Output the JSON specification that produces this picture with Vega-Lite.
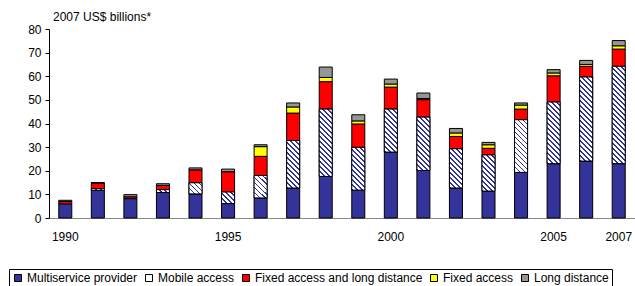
{
  "$schema": "https://vega.github.io/schema/vega-lite/v6.json",
  "width": 586,
  "height": 189,
  "autosize": "none",
  "padding": {"left": 49, "top": 29, "right": 0, "bottom": 68},
  "background": "white",
  "config": {
    "font": "Liberation Sans",
    "view": {"stroke": null},
    "axis": {"labelFont": "Liberation Sans", "labelColor": "#000", "grid": false},
    "legend": {"labelFont": "Liberation Sans"}
  },
  "title": {
    "text": "2007 US$ billions*",
    "anchor": "start",
    "frame": "group",
    "fontSize": 12,
    "fontWeight": "normal",
    "font": "Liberation Sans",
    "color": "#000",
    "dx": 4,
    "offset": -1
  },
  "params": [
    {
      "name": "hatchStops",
      "value": [
        {"offset": 0, "color": "#333399"}, {"offset": 0.012, "color": "#333399"}, {"offset": 0.012, "color": "#fff"}, {"offset": 0.0333, "color": "#fff"},
        {"offset": 0.0333, "color": "#333399"}, {"offset": 0.0453, "color": "#333399"}, {"offset": 0.0453, "color": "#fff"}, {"offset": 0.0667, "color": "#fff"},
        {"offset": 0.0667, "color": "#333399"}, {"offset": 0.0787, "color": "#333399"}, {"offset": 0.0787, "color": "#fff"}, {"offset": 0.1, "color": "#fff"},
        {"offset": 0.1, "color": "#333399"}, {"offset": 0.112, "color": "#333399"}, {"offset": 0.112, "color": "#fff"}, {"offset": 0.1333, "color": "#fff"},
        {"offset": 0.1333, "color": "#333399"}, {"offset": 0.1453, "color": "#333399"}, {"offset": 0.1453, "color": "#fff"}, {"offset": 0.1667, "color": "#fff"},
        {"offset": 0.1667, "color": "#333399"}, {"offset": 0.1787, "color": "#333399"}, {"offset": 0.1787, "color": "#fff"}, {"offset": 0.2, "color": "#fff"},
        {"offset": 0.2, "color": "#333399"}, {"offset": 0.212, "color": "#333399"}, {"offset": 0.212, "color": "#fff"}, {"offset": 0.2333, "color": "#fff"},
        {"offset": 0.2333, "color": "#333399"}, {"offset": 0.2453, "color": "#333399"}, {"offset": 0.2453, "color": "#fff"}, {"offset": 0.2667, "color": "#fff"},
        {"offset": 0.2667, "color": "#333399"}, {"offset": 0.2787, "color": "#333399"}, {"offset": 0.2787, "color": "#fff"}, {"offset": 0.3, "color": "#fff"},
        {"offset": 0.3, "color": "#333399"}, {"offset": 0.312, "color": "#333399"}, {"offset": 0.312, "color": "#fff"}, {"offset": 0.3333, "color": "#fff"},
        {"offset": 0.3333, "color": "#333399"}, {"offset": 0.3453, "color": "#333399"}, {"offset": 0.3453, "color": "#fff"}, {"offset": 0.3667, "color": "#fff"},
        {"offset": 0.3667, "color": "#333399"}, {"offset": 0.3787, "color": "#333399"}, {"offset": 0.3787, "color": "#fff"}, {"offset": 0.4, "color": "#fff"},
        {"offset": 0.4, "color": "#333399"}, {"offset": 0.412, "color": "#333399"}, {"offset": 0.412, "color": "#fff"}, {"offset": 0.4333, "color": "#fff"},
        {"offset": 0.4333, "color": "#333399"}, {"offset": 0.4453, "color": "#333399"}, {"offset": 0.4453, "color": "#fff"}, {"offset": 0.4667, "color": "#fff"},
        {"offset": 0.4667, "color": "#333399"}, {"offset": 0.4787, "color": "#333399"}, {"offset": 0.4787, "color": "#fff"}, {"offset": 0.5, "color": "#fff"},
        {"offset": 0.5, "color": "#333399"}, {"offset": 0.512, "color": "#333399"}, {"offset": 0.512, "color": "#fff"}, {"offset": 0.5333, "color": "#fff"},
        {"offset": 0.5333, "color": "#333399"}, {"offset": 0.5453, "color": "#333399"}, {"offset": 0.5453, "color": "#fff"}, {"offset": 0.5667, "color": "#fff"},
        {"offset": 0.5667, "color": "#333399"}, {"offset": 0.5787, "color": "#333399"}, {"offset": 0.5787, "color": "#fff"}, {"offset": 0.6, "color": "#fff"},
        {"offset": 0.6, "color": "#333399"}, {"offset": 0.612, "color": "#333399"}, {"offset": 0.612, "color": "#fff"}, {"offset": 0.6333, "color": "#fff"},
        {"offset": 0.6333, "color": "#333399"}, {"offset": 0.6453, "color": "#333399"}, {"offset": 0.6453, "color": "#fff"}, {"offset": 0.6667, "color": "#fff"},
        {"offset": 0.6667, "color": "#333399"}, {"offset": 0.6787, "color": "#333399"}, {"offset": 0.6787, "color": "#fff"}, {"offset": 0.7, "color": "#fff"},
        {"offset": 0.7, "color": "#333399"}, {"offset": 0.712, "color": "#333399"}, {"offset": 0.712, "color": "#fff"}, {"offset": 0.7333, "color": "#fff"},
        {"offset": 0.7333, "color": "#333399"}, {"offset": 0.7453, "color": "#333399"}, {"offset": 0.7453, "color": "#fff"}, {"offset": 0.7667, "color": "#fff"},
        {"offset": 0.7667, "color": "#333399"}, {"offset": 0.7787, "color": "#333399"}, {"offset": 0.7787, "color": "#fff"}, {"offset": 0.8, "color": "#fff"},
        {"offset": 0.8, "color": "#333399"}, {"offset": 0.812, "color": "#333399"}, {"offset": 0.812, "color": "#fff"}, {"offset": 0.8333, "color": "#fff"},
        {"offset": 0.8333, "color": "#333399"}, {"offset": 0.8453, "color": "#333399"}, {"offset": 0.8453, "color": "#fff"}, {"offset": 0.8667, "color": "#fff"},
        {"offset": 0.8667, "color": "#333399"}, {"offset": 0.8787, "color": "#333399"}, {"offset": 0.8787, "color": "#fff"}, {"offset": 0.9, "color": "#fff"},
        {"offset": 0.9, "color": "#333399"}, {"offset": 0.912, "color": "#333399"}, {"offset": 0.912, "color": "#fff"}, {"offset": 0.9333, "color": "#fff"},
        {"offset": 0.9333, "color": "#333399"}, {"offset": 0.9453, "color": "#333399"}, {"offset": 0.9453, "color": "#fff"}, {"offset": 0.9667, "color": "#fff"},
        {"offset": 0.9667, "color": "#333399"}, {"offset": 0.9787, "color": "#333399"}, {"offset": 0.9787, "color": "#fff"}, {"offset": 1, "color": "#fff"}
      ]
    }
  ],
  "data": {
    "values": [
      {"year": 1990, "type": "Multiservice provider", "value": 6.0},
      {"year": 1990, "type": "Fixed access and long distance", "value": 1.0},
      {"year": 1990, "type": "Long distance", "value": 0.5},
      {"year": 1991, "type": "Multiservice provider", "value": 11.7},
      {"year": 1991, "type": "Mobile access", "value": 0.7},
      {"year": 1991, "type": "Fixed access and long distance", "value": 2.4},
      {"year": 1991, "type": "Long distance", "value": 0.2},
      {"year": 1992, "type": "Multiservice provider", "value": 8.2},
      {"year": 1992, "type": "Fixed access and long distance", "value": 0.8},
      {"year": 1992, "type": "Long distance", "value": 0.9},
      {"year": 1993, "type": "Multiservice provider", "value": 10.8},
      {"year": 1993, "type": "Mobile access", "value": 1.2},
      {"year": 1993, "type": "Fixed access and long distance", "value": 1.8},
      {"year": 1993, "type": "Long distance", "value": 0.7},
      {"year": 1994, "type": "Multiservice provider", "value": 10.2},
      {"year": 1994, "type": "Mobile access", "value": 4.7},
      {"year": 1994, "type": "Fixed access and long distance", "value": 5.5},
      {"year": 1994, "type": "Long distance", "value": 0.8},
      {"year": 1995, "type": "Multiservice provider", "value": 6.1},
      {"year": 1995, "type": "Mobile access", "value": 4.9},
      {"year": 1995, "type": "Fixed access and long distance", "value": 8.6},
      {"year": 1995, "type": "Long distance", "value": 1.1},
      {"year": 1996, "type": "Multiservice provider", "value": 8.5},
      {"year": 1996, "type": "Mobile access", "value": 9.5},
      {"year": 1996, "type": "Fixed access and long distance", "value": 8.1},
      {"year": 1996, "type": "Fixed access", "value": 4.1},
      {"year": 1996, "type": "Long distance", "value": 0.8},
      {"year": 1997, "type": "Multiservice provider", "value": 12.7},
      {"year": 1997, "type": "Mobile access", "value": 20.1},
      {"year": 1997, "type": "Fixed access and long distance", "value": 11.6},
      {"year": 1997, "type": "Fixed access", "value": 2.6},
      {"year": 1997, "type": "Long distance", "value": 1.7},
      {"year": 1998, "type": "Multiservice provider", "value": 17.6},
      {"year": 1998, "type": "Mobile access", "value": 28.5},
      {"year": 1998, "type": "Fixed access and long distance", "value": 11.6},
      {"year": 1998, "type": "Fixed access", "value": 1.8},
      {"year": 1998, "type": "Long distance", "value": 4.4},
      {"year": 1999, "type": "Multiservice provider", "value": 11.8},
      {"year": 1999, "type": "Mobile access", "value": 18.1},
      {"year": 1999, "type": "Fixed access and long distance", "value": 9.9},
      {"year": 1999, "type": "Fixed access", "value": 1.3},
      {"year": 1999, "type": "Long distance", "value": 2.6},
      {"year": 2000, "type": "Multiservice provider", "value": 27.9},
      {"year": 2000, "type": "Mobile access", "value": 18.2},
      {"year": 2000, "type": "Fixed access and long distance", "value": 9.3},
      {"year": 2000, "type": "Fixed access", "value": 1.3},
      {"year": 2000, "type": "Long distance", "value": 2.1},
      {"year": 2001, "type": "Multiservice provider", "value": 20.1},
      {"year": 2001, "type": "Mobile access", "value": 22.6},
      {"year": 2001, "type": "Fixed access and long distance", "value": 7.4},
      {"year": 2001, "type": "Fixed access", "value": 0.5},
      {"year": 2001, "type": "Long distance", "value": 2.3},
      {"year": 2002, "type": "Multiservice provider", "value": 12.7},
      {"year": 2002, "type": "Mobile access", "value": 16.6},
      {"year": 2002, "type": "Fixed access and long distance", "value": 5.2},
      {"year": 2002, "type": "Fixed access", "value": 1.5},
      {"year": 2002, "type": "Long distance", "value": 1.9},
      {"year": 2003, "type": "Multiservice provider", "value": 11.4},
      {"year": 2003, "type": "Mobile access", "value": 15.3},
      {"year": 2003, "type": "Fixed access and long distance", "value": 2.8},
      {"year": 2003, "type": "Fixed access", "value": 1.5},
      {"year": 2003, "type": "Long distance", "value": 1.0},
      {"year": 2004, "type": "Multiservice provider", "value": 19.3},
      {"year": 2004, "type": "Mobile access", "value": 22.3},
      {"year": 2004, "type": "Fixed access and long distance", "value": 4.5},
      {"year": 2004, "type": "Fixed access", "value": 1.7},
      {"year": 2004, "type": "Long distance", "value": 0.9},
      {"year": 2005, "type": "Multiservice provider", "value": 23.0},
      {"year": 2005, "type": "Mobile access", "value": 26.1},
      {"year": 2005, "type": "Fixed access and long distance", "value": 11.1},
      {"year": 2005, "type": "Fixed access", "value": 1.2},
      {"year": 2005, "type": "Long distance", "value": 1.4},
      {"year": 2006, "type": "Multiservice provider", "value": 24.1},
      {"year": 2006, "type": "Mobile access", "value": 35.6},
      {"year": 2006, "type": "Fixed access and long distance", "value": 4.5},
      {"year": 2006, "type": "Fixed access", "value": 0.8},
      {"year": 2006, "type": "Long distance", "value": 1.7},
      {"year": 2007, "type": "Multiservice provider", "value": 23.0},
      {"year": 2007, "type": "Mobile access", "value": 41.2},
      {"year": 2007, "type": "Fixed access and long distance", "value": 7.3},
      {"year": 2007, "type": "Fixed access", "value": 1.4},
      {"year": 2007, "type": "Long distance", "value": 2.2}
    ]
  },
  "transform": [
    {"calculate": "indexof(['Multiservice provider','Mobile access','Fixed access and long distance','Fixed access','Long distance'], datum.type)", "as": "ord"},
    {"stack": "value", "groupby": ["year"], "sort": [{"field": "ord", "order": "ascending"}], "as": ["lo", "hi"]}
  ],
  "encoding": {
    "x": {
      "field": "year",
      "type": "ordinal",
      "scale": {"paddingInner": 0.6, "paddingOuter": 0.3},
      "axis": {
        "title": null,
        "labelAngle": 0,
        "ticks": false,
        "domainColor": "#888",
        "labelFontSize": 12,
        "labelPadding": 13,
        "labelExpr": "indexof(['1990','1995','2000','2005','2007'], datum.label) >= 0 ? datum.label : ''"
      }
    },
    "y": {
      "field": "lo",
      "type": "quantitative",
      "scale": {"domain": [0, 80], "nice": false},
      "axis": {
        "title": null,
        "values": [0, 10, 20, 30, 40, 50, 60, 70, 80],
        "labelFontSize": 12,
        "tickSize": 4,
        "tickColor": "#000",
        "domainColor": "#000",
        "labelPadding": 4
      }
    },
    "y2": {"field": "hi"}
  },
  "layer": [
    {
      "mark": {"type": "bar", "stroke": "#000", "strokeWidth": 1},
      "encoding": {
        "color": {
          "field": "type",
          "type": "nominal",
          "scale": {
            "domain": ["Multiservice provider", "Mobile access", "Fixed access and long distance", "Fixed access", "Long distance"],
            "range": ["#333399", "#ffffff", "#ff0000", "#ffff00", "#969696"]
          },
          "legend": {
            "title": null,
            "orient": "none",
            "legendX": -40,
            "legendY": 240,
            "direction": "horizontal",
            "columns": 5,
            "columnPadding": 5,
            "symbolType": "square",
            "symbolSize": 49,
            "symbolStrokeColor": "#000",
            "symbolStrokeWidth": 1,
            "symbolOffset": 0,
            "labelFontSize": 12,
            "labelLimit": 0,
            "labelColor": "#000",
            "labelOffset": 3,
            "strokeColor": "#000",
            "padding": 3
          }
        }
      }
    },
    {
      "transform": [
        {"filter": "datum.type === 'Mobile access'"},
        {"calculate": "{gradient: 'linear', x1: 0, y1: 1, x2: 13*150/(169 + pow(datum.value*2.3625, 2)), y2: 1 - datum.value*2.3625*150/(169 + pow(datum.value*2.3625, 2)), stops: hatchStops}", "as": "hatch"}
      ],
      "mark": {"type": "bar", "stroke": "#000", "strokeWidth": 1},
      "encoding": {
        "fill": {"field": "hatch", "type": "nominal", "scale": null, "legend": null}
      }
    }
  ]
}
